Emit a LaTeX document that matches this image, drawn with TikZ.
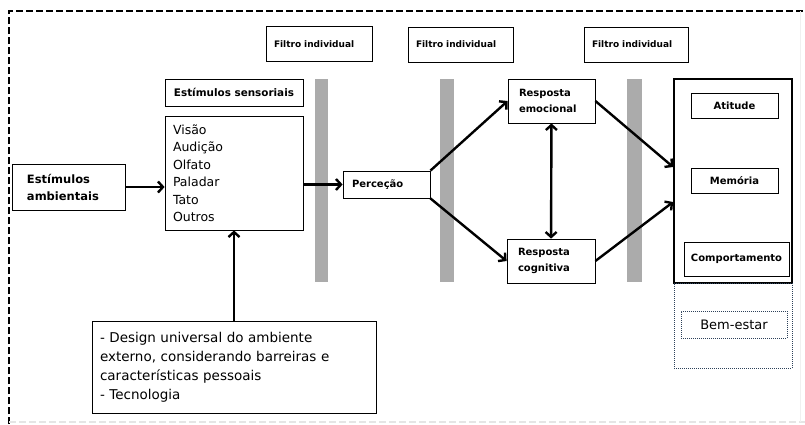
\documentclass[tikz,border=0pt]{standalone}
\usepackage{fontspec}
\setmainfont{DejaVu Sans}
\usetikzlibrary{shapes, arrows, arrows.meta}

\definecolor{dotblue}{RGB}{45,65,90}

\begin{document}
\begin{tikzpicture}[x=1pt,y=-1pt,->,>={Straight Barb[length=5pt,width=11pt]},
                     line width=2.4pt,
                     main node/.style={rectangle,draw,line width=0.8pt,align=left,
                       font=\bfseries\fontsize{10}{16}\selectfont},
                     filter node/.style={main node,font=\bfseries\fontsize{9}{11}\selectfont,
                       text width=90pt,inner xsep=8pt,minimum height=35pt},
                     dot node/.style={main node,draw=dotblue,dash pattern=on 1pt off 1pt,line width=1pt},
                     bar/.style={fill=black!33}]

  \useasboundingbox (0,0) rectangle (805,424);

  % frame
  \draw[-,dash pattern=on 7pt off 3pt,line width=2.6pt] (9,424) -- (9,11) -- (805,11);
  \draw[-,dash pattern=on 7pt off 3pt,line width=1.2pt,black!10] (9,422) -- (805,422);
  \draw[-,line width=1pt,black!6] (800,11) -- (800,422);

  % filters
  \node[filter node] (f1) at (319,44) {Filtro individual};
  \node[filter node,text width=89pt] (f2) at (460.5,44.5) {Filtro individual};
  \node[filter node,text width=88pt] (f3) at (636,44.5) {Filtro individual};
  \fill[bar] (315,79) rectangle (328,282);
  \fill[bar] (440,79) rectangle (454,282);
  \fill[bar] (627,79) rectangle (642,282);

  \node[main node,text width=83pt,inner xsep=15pt,minimum height=46pt,
        font=\bfseries\fontsize{11.5}{17}\selectfont] (1) at (68.5,187) {Estímulos\\ambientais};
  \node[main node,minimum width=138pt,minimum height=27pt,align=center,
        font=\bfseries\fontsize{10.4}{13}\selectfont] (2) at (234,92.5) {Estímulos sensoriais};
  \node[main node,text width=122pt,inner xsep=8pt,minimum height=114pt,
        font=\fontsize{12.5}{17.5}\selectfont] (3) at (234,173)
        {Visão\\Audição\\Olfato\\Paladar\\Tato\\Outros};
  \node[main node,text width=268pt,inner xsep=8pt,minimum height=92pt,
        font=\fontsize{13.5}{19}\selectfont] (4) at (234,367)
        {- Design universal do ambiente\\externo, considerando barreiras e\\características pessoais\\- Tecnologia};
  \node[main node,text width=69pt,inner xsep=9pt,minimum height=27pt] (5) at (386.5,184.5) {Perceção};
  \node[main node,text width=65pt,inner xsep=11pt,minimum height=44pt] (6) at (551.5,101) {Resposta\\emocional};
  \node[main node,text width=66pt,inner xsep=11pt,minimum height=44pt] (7) at (551,261) {Resposta\\cognitiva};

  % results
  \node[main node,line width=1.8pt,minimum width=118pt,minimum height=204pt] (8) at (733,181) {};
  \node[main node,minimum width=87pt,minimum height=25pt,align=center] (9) at (734.5,105.5) {Atitude};
  \node[main node,minimum width=87pt,minimum height=25pt,align=center] (10) at (734.5,180.5) {Memória};
  \node[main node,minimum width=105pt,minimum height=34pt,align=center] (11) at (736.5,259) {Comportamento};
  \node[dot node,minimum width=118pt,minimum height=85pt] (12) at (733,325.5) {};
  \node[dot node,minimum width=106pt,minimum height=27pt,align=center,
        font=\fontsize{13}{15}\selectfont] (13) at (734,324.5) {Bem-estar};

  \path
   (1.east) edge (1.east -| 3.west)
   (3.east |- 5.west) edge (5.west)
   (4) edge (3)
   (5.north east) edge (6.west)
   (5.south east) edge (7.west)
   (6) edge[<->] (7)
   (6.east) edge ([yshift=14pt]8.west)
   (7.east) edge ([yshift=-21pt]8.west);
\end{tikzpicture}
\end{document}
